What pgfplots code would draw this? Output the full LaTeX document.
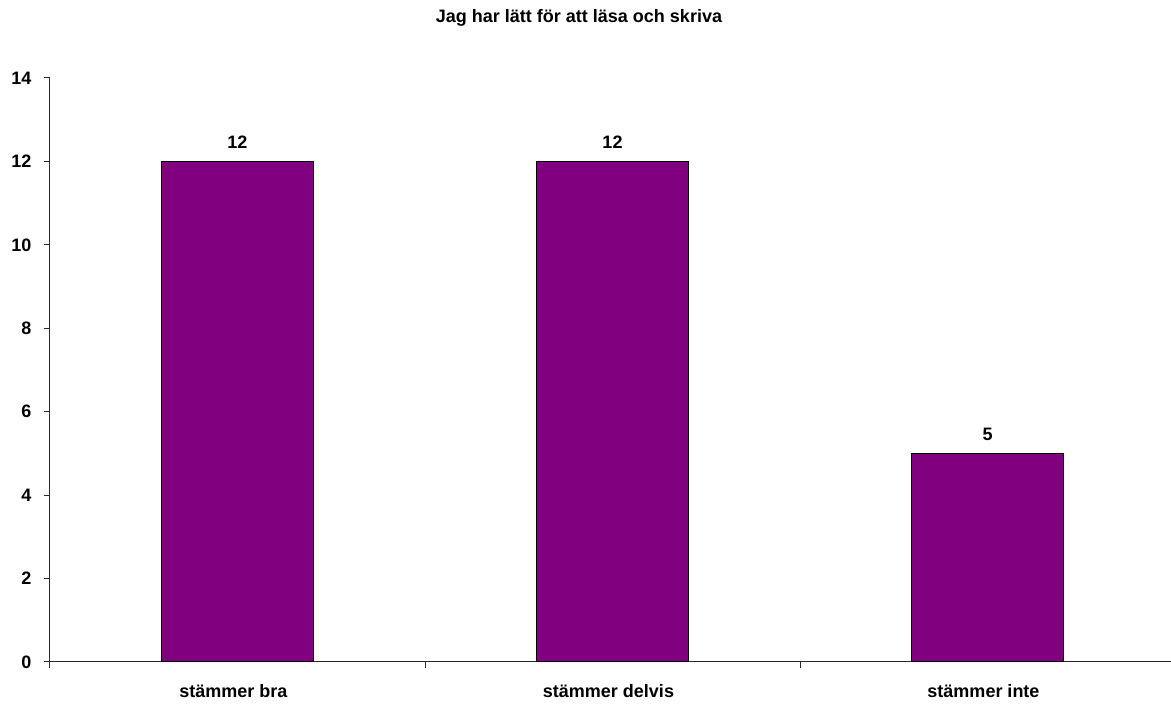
\documentclass[border=0pt]{standalone}
\usepackage{pgfplots}
\pgfplotsset{compat=1.18}
\usepackage{fontspec}
\setmainfont{Liberation Sans}
\definecolor{barpurple}{RGB}{128,0,128}
\definecolor{axisgray}{RGB}{40,40,40}
\begin{document}
\begin{tikzpicture}[x=1pt,y=1pt]
\useasboundingbox (0,0) rectangle (1171,704);
\node[font=\fontsize{18}{20}\selectfont\bfseries] at (579,686) {Jag har lätt för att läsa och skriva};
\begin{axis}[
  at={(50pt,42pt)}, anchor=south west,
  scale only axis, width=1125pt, height=584pt,
  xmin=0, xmax=3, ymin=0, ymax=14,
  axis x line*=bottom, axis y line*=left,
  axis line style={axisgray, line width=1pt},
  ytick={0,2,...,14},
  xtick={0.5,1.5,2.5},
  xticklabels={stämmer bra, stämmer delvis, stämmer inte},
  minor xtick={0,1,2,3},
  tick align=outside,
  major tick length=6pt, minor tick length=6pt,
  major x tick style={draw=none},
  every tick/.style={axisgray, line width=1pt},
  tick label style={font=\fontsize{18}{20}\selectfont\bfseries},
  xticklabel style={yshift=-13pt, xshift=-4pt},
  yticklabel style={xshift=-9pt},
  /pgf/number format/assume math mode=true,
  clip=false,
]
\addplot[ybar, bar width=152pt, fill=barpurple, draw=black, line width=1pt,
  nodes near coords,
  every node near coord/.append style={font=\fontsize{18}{20}\selectfont\bfseries, black, inner sep=2pt, yshift=10pt}]
  coordinates {(0.5,12) (1.5,12) (2.5,5)};
\end{axis}
\end{tikzpicture}
\end{document}
